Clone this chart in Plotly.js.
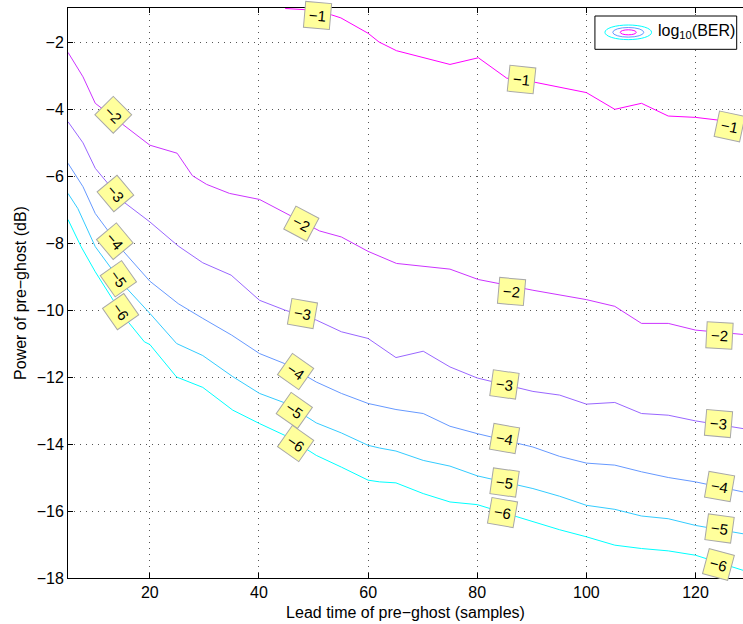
<!DOCTYPE html>
<html>
<head>
<meta charset="utf-8">
<script src="https://cdn.plot.ly/plotly-3.0.1.min.js"></script>
<style>html,body{margin:0;padding:0;background:#fff;}#chart{width:743px;height:624px;}</style>
</head>
<body>
<div id="chart"></div>
<script>
// Contour level values
const levels = [-1, -2, -3, -4, -5, -6];
const levelColors = ['#ff00ff', '#cc33ff', '#9966ff', '#6699ff', '#33ccff', '#00ffff'];

// Contour line vertices (lead time in samples, power in dB)
const lvl1X = [44.8, 50, 53.3, 55, 60, 62, 65.2, 75, 80.2, 85.4, 90.2, 100, 105.2, 110.1, 115, 120, 128.7];
const lvl1Y = [-1.0, -1.05, -1.19, -1.28, -1.74, -2.0, -2.26, -2.67, -2.47, -3.08, -3.19, -3.51, -4.01, -3.83, -4.21, -4.25, -4.42];

const lvl2X = [5, 7.75, 10, 15.7, 20, 25, 27.8, 30.4, 34.6, 40.1, 44.1, 51.1, 55.1, 60, 65.2, 75, 80.2, 90.2, 100, 105.2, 110.1, 115, 120, 128.7];
const lvl2Y = [-2.31, -3.04, -3.83, -4.53, -5.08, -5.32, -5.99, -6.25, -6.52, -6.70, -7.04, -7.64, -7.82, -8.25, -8.61, -8.78, -9.09, -9.41, -9.69, -9.89, -10.40, -10.40, -10.60, -10.73];

const lvl3X = [5, 7.75, 10, 15, 20, 25.2, 29.7, 34.9, 40.1, 44.7, 50.5, 55.1, 60, 62.1, 65.1, 70.1, 75, 80, 90.2, 95.1, 100, 105.2, 110.1, 115, 120, 128.7];
const lvl3Y = [-4.38, -5.01, -5.77, -6.75, -7.37, -8.09, -8.59, -8.96, -9.71, -10.0, -10.30, -10.65, -10.85, -11.08, -11.42, -11.23, -11.70, -12.03, -12.43, -12.54, -12.81, -12.76, -13.09, -13.14, -13.31, -13.54];

const lvl4X = [5, 7.75, 10, 15, 20, 25.2, 29.7, 35, 40.1, 44.7, 50.5, 55.1, 60, 62.1, 65.1, 70.1, 75, 80, 90.2, 95.1, 100, 105.2, 110.1, 115, 120, 128.7];
const lvl4Y = [-5.62, -6.32, -7.12, -8.22, -9.14, -9.81, -10.25, -10.75, -11.30, -11.60, -12.15, -12.49, -12.79, -12.87, -12.97, -13.09, -13.47, -13.69, -14.09, -14.37, -14.57, -14.63, -14.83, -15.0, -15.13, -15.43];

const lvl5X = [5, 6.8, 10, 15, 20, 24.9, 29.7, 35.2, 40.1, 44.7, 50.5, 55.1, 60, 62.1, 65.1, 70.1, 75, 80, 90.2, 95.1, 100, 105.2, 110.1, 115, 120, 128.7];
const lvl5Y = [-6.52, -6.97, -8.11, -9.22, -10.10, -11.0, -11.36, -11.99, -12.49, -12.77, -13.37, -13.67, -14.04, -14.12, -14.21, -14.49, -14.66, -14.95, -15.33, -15.56, -15.83, -15.95, -16.15, -16.23, -16.43, -16.68];

const lvl6X = [5, 7.4, 10, 15, 19, 20, 24.9, 29.7, 35.2, 40.1, 44.7, 50.5, 55.1, 60, 62.1, 65.1, 70.1, 75, 80, 90.2, 95.1, 100, 105.2, 110.1, 115, 120, 128.7];
const lvl6Y = [-7.30, -8.11, -8.86, -10.15, -10.95, -11.03, -12.0, -12.31, -12.99, -13.39, -13.74, -14.34, -14.69, -15.08, -15.13, -15.16, -15.48, -15.73, -15.81, -16.33, -16.56, -16.77, -17.02, -17.12, -17.19, -17.32, -17.77];

const lineXs = [lvl1X, lvl2X, lvl3X, lvl4X, lvl5X, lvl6X];
const lineYs = [lvl1Y, lvl2Y, lvl3Y, lvl4Y, lvl5Y, lvl6Y];

// Contour labels (clabel)
const labelText  = ['−1','−1','−1', '−2','−2','−2','−2', '−3','−3','−3','−3', '−4','−4','−4','−4', '−5','−5','−5','−5', '−6','−6','−6','−6'];
const labelX     = [50.8, 88.1, 126.3, 13.25, 47.7, 86.3, 124.4, 13.7, 47.9, 85, 124.2, 13.6, 46.7, 85, 124.4, 14.2, 46.5, 85, 124.4, 14.6, 46.7, 84.6, 124.2];
const labelY     = [-1.22, -3.13, -4.53, -4.16, -7.41, -9.46, -10.75, -6.52, -10.1, -12.21, -13.39, -7.96, -11.84, -13.84, -15.28, -9.06, -12.99, -15.16, -16.53, -10.05, -13.99, -16.05, -17.59];
const labelAngle = [5, 6, 12, 45, 28, 5, 3, 50, 10, 8, 5, 50, 35, 10, 10, 55, 35, 8, 8, 55, 35, 10, 15];

// Axis ticks
const xTickVals = [20, 40, 60, 80, 100, 120];
const xTickText = ['20', '40', '60', '80', '100', '120'];
const yTickVals = [-18, -16, -14, -12, -10, -8, -6, -4, -2];
const yTickText = ['−18', '−16', '−14', '−12', '−10', '−8', '−6', '−4', '−2'];

const FONT = 'Liberation Sans, Arial, Helvetica, sans-serif';

const traces = levels.map((lv, i) => ({
  x: lineXs[i], y: lineYs[i], type: 'scatter', mode: 'lines',
  line: {color: levelColors[i], width: 1}, showlegend: false, hoverinfo: 'skip'
}));

const annotations = labelText.map((t, i) => ({
  x: labelX[i], y: labelY[i], xref: 'x', yref: 'y', text: t, showarrow: false,
  textangle: labelAngle[i], bgcolor: '#ffff9c', bordercolor: '#a8a8a8', borderwidth: 1, borderpad: 4,
  font: {family: FONT, size: 15, color: '#000'}
}));

// legend text
annotations.push({
  xref: 'paper', yref: 'paper', x: 0.871, y: 0.958, xanchor: 'left', yanchor: 'middle',
  text: 'log<sub>10</sub>(BER)', showarrow: false, font: {family: FONT, size: 16, color: '#000'}
});

// px -> paper helpers for legend icon
const PL = 68.3, PR = 743, PT = 8, PB = 577.7;
const px = v => (v - PL) / (PR - PL);
const py = v => (PB - v) / (PB - PT);

const shapes = [
  {type: 'rect', xref: 'paper', yref: 'paper', x0: px(595), x1: px(736.7), y0: py(49.3), y1: py(16),
   line: {color: '#000', width: 1}, fillcolor: '#fff', layer: 'above'},
  {type: 'circle', xref: 'paper', yref: 'paper', x0: px(628.3 - 23.3), x1: px(628.3 + 23.3), y0: py(32.3 + 7.3), y1: py(32.3 - 7.3),
   line: {color: levelColors[5], width: 1}, layer: 'above'},
  {type: 'circle', xref: 'paper', yref: 'paper', x0: px(628.3 - 15.5), x1: px(628.3 + 15.5), y0: py(32.3 + 4.8), y1: py(32.3 - 4.8),
   line: {color: levelColors[3], width: 1}, layer: 'above'},
  {type: 'circle', xref: 'paper', yref: 'paper', x0: px(628.3 - 8), x1: px(628.3 + 8), y0: py(32.3 + 2.5), y1: py(32.3 - 2.5),
   line: {color: levelColors[0], width: 1}, layer: 'above'}
];

const layout = {
  width: 743, height: 624,
  margin: {l: 68.3, r: 0, t: 8, b: 46.3},
  paper_bgcolor: '#fff', plot_bgcolor: '#fff',
  font: {family: FONT, size: 16, color: '#000'},
  showlegend: false,
  xaxis: {
    range: [5, 128.7], tickvals: xTickVals, ticktext: xTickText,
    ticks: 'inside', ticklen: 5, tickcolor: '#000', tickwidth: 1,
    showline: true, linecolor: '#000', linewidth: 1, mirror: 'ticks',
    showgrid: true, gridcolor: '#555', griddash: '1px,5px', gridwidth: 1,
    zeroline: false, tickfont: {family: FONT, size: 16, color: '#000'},
    title: {text: 'Lead time of pre−ghost (samples)', font: {family: FONT, size: 16, color: '#000'}, standoff: 6}
  },
  yaxis: {
    range: [-18, -0.985], tickvals: yTickVals, ticktext: yTickText,
    ticks: 'inside', ticklen: 5, tickcolor: '#000', tickwidth: 1,
    showline: true, linecolor: '#000', linewidth: 1, mirror: false,
    showgrid: true, gridcolor: '#555', griddash: '1px,5px', gridwidth: 1,
    zeroline: false, tickfont: {family: FONT, size: 16, color: '#000'},
    title: {text: 'Power of pre−ghost (dB)', font: {family: FONT, size: 16, color: '#000'}, standoff: 6}
  },
  annotations: annotations,
  shapes: shapes
};

Plotly.newPlot('chart', traces, layout, {displayModeBar: false, staticPlot: true});
</script>
</body>
</html>
